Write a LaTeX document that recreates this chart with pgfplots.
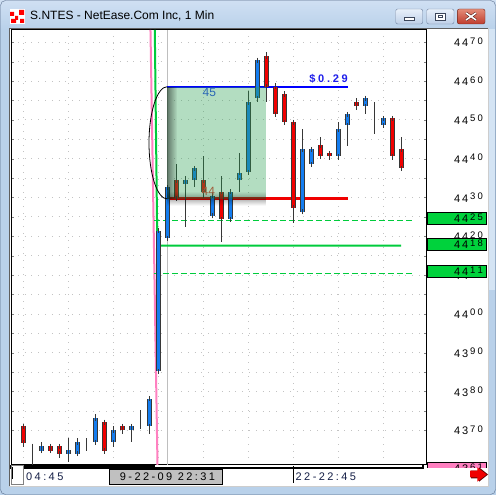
\documentclass[border=0pt]{standalone}
\usepackage{fontspec}
\setmainfont{Liberation Sans}
\newfontfamily\timefont[LetterSpace=22]{Liberation Sans}
\newfontfamily\tagfont[LetterSpace=25]{Liberation Sans}
\usepackage{pgfplots}
\pgfplotsset{compat=1.18}
\usepackage{pgfplotstable}
\usetikzlibrary{fadings}

\definecolor{frame}{RGB}{185,209,234}
\definecolor{titletop}{RGB}{208,224,243}
\definecolor{candleup}{RGB}{20,125,240}
\definecolor{candledn}{RGB}{240,0,0}
\definecolor{edge}{RGB}{55,55,55}
\definecolor{lvlgreen}{RGB}{0,204,60}
\definecolor{pinkline}{RGB}{255,128,192}
\definecolor{zonegreen}{RGB}{40,160,80}
\definecolor{gridc}{RGB}{195,195,195}
\definecolor{badgegreen}{RGB}{0,210,60}
\definecolor{timebox}{RGB}{192,192,192}
\definecolor{timetext}{RGB}{20,30,70}
\definecolor{cursorgray}{RGB}{190,190,190}

% price label: two leading digits, last two raised and smaller
\def\digs#1#2{#1\kern2bp#2}
\newcommand\pxl[2]{\hbox{{\fontsize{11bp}{11bp}\selectfont\digs#1}\kern2bp\raisebox{2.5bp}{\fontsize{9.5bp}{9.5bp}\selectfont\digs#2}}}

% one-minute bars: index, open, high, low, close
\pgfplotstableread{
i o h l c
2 4365.9 4365.9 4360.5 4365.9
3 4364.8 4367.0 4364.8 4365.9
6 4364.0 4368.0 4361.8 4364.8
7 4364.0 4368.0 4364.0 4366.9
8 4366.9 4368.0 4364.7 4366.9
9 4366.9 4374.2 4366.9 4373.1
11 4366.9 4371.0 4365.8 4370.0
13 4370.0 4371.0 4366.9 4371.0
14 4371.0 4375.2 4371.0 4371.0
15 4371.0 4378.2 4369.0 4378.2
16 4385.2 4421.5 4385.2 4421.5
17 4419.5 4432.6 4419.5 4432.6
19 4433.4 4435.5 4422.5 4434.4
20 4434.4 4437.5 4432.6 4437.5
22 4425.3 4431.5 4425.3 4430.5
24 4424.4 4431.5 4424.4 4431.5
25 4434.5 4441.4 4431.5 4436.4
26 4436.5 4457.4 4436.5 4454.5
27 4455.6 4465.4 4454.5 4465.4
32 4426.3 4447.7 4426.3 4442.4
33 4438.6 4442.4 4438.6 4442.4
36 4440.6 4449.4 4439.6 4447.6
37 4448.6 4451.4 4443.4 4451.4
39 4453.5 4455.6 4451.4 4455.6
40 4453.5 4454.7 4446.5 4453.5
41 4448.6 4450.4 4448.6 4450.4
}\upbars

\pgfplotstableread{
i o h l c
1 4371.0 4371.0 4365.8 4366.8
4 4365.9 4365.9 4364.8 4364.8
5 4365.9 4365.9 4362.9 4364.0
10 4372.1 4372.1 4364.0 4364.7
12 4371.0 4371.0 4369.0 4370.0
18 4434.4 4438.6 4429.8 4429.8
21 4434.4 4440.7 4429.8 4431.5
23 4431.5 4435.5 4418.5 4424.4
28 4466.4 4467.4 4454.5 4458.6
29 4458.6 4459.4 4451.4 4451.4
30 4456.6 4457.4 4448.6 4449.4
31 4449.4 4449.4 4423.5 4427.4
34 4443.5 4445.6 4440.6 4440.6
35 4441.4 4441.4 4439.6 4440.6
38 4454.5 4455.6 4452.5 4453.5
42 4450.4 4450.4 4439.6 4440.6
43 4442.4 4445.5 4437.5 4437.5
}\dnbars

\pgfplotsset{
  wicks/.style={draw=none, mark=none, forget plot,
    error bars/.cd, y dir=both, y explicit, error mark=none,
    error bar style={line width=1bp, draw=edge}},
  bodyedge/.style={draw=none, mark=none, forget plot,
    error bars/.cd, y dir=both, y explicit, error mark=none,
    error bar style={line width=5bp, draw=edge}},
  bodyfill/.style={draw=none, mark=none, forget plot,
    error bars/.cd, y dir=both, y explicit, error mark=-,
    error mark options={draw=edge, line width=1bp, mark size=2.5bp},
    error bar style={line width=3bp, draw=#1}},
}

\begin{document}
\begin{tikzpicture}[x=1bp,y=1bp]
\useasboundingbox (0,0) rectangle (496,495);

% window frame and title bar
\fill[frame] (0,0) rectangle (496,495);
\shade[top color=titletop, bottom color=frame] (0,466) rectangle (496,495);
\fill[color={rgb,255:red,212;green,228;blue,244}] (488.5,205) rectangle (495,466);
\draw[color={rgb,255:red,90;green,110;blue,140}, rounded corners=5bp] (0.5,0.5) rectangle (495.5,494.5);
% application icon
\fill[white] (10,471) rectangle (25,486);
\fill[red] (10,479) rectangle (14,483) (15,475) rectangle (18,479) (19,480) rectangle (24,485) (11,472) rectangle (16,476) (20,472) rectangle (24,476);
\node[anchor=base west, inner sep=0pt, font=\fontsize{12bp}{12bp}\selectfont] at (30,475) {S.NTES - NetEase.Com Inc, 1 Min};
% caption buttons
\shade[top color={rgb,255:red,232;green,240;blue,250}, bottom color={rgb,255:red,190;green,208;blue,232}, draw={rgb,255:red,110;green,130;blue,160}, rounded corners=2bp] (395.7,471) rectangle (422.7,486);
\shade[top color={rgb,255:red,232;green,240;blue,250}, bottom color={rgb,255:red,190;green,208;blue,232}, draw={rgb,255:red,110;green,130;blue,160}, rounded corners=2bp] (426.7,471) rectangle (454,486);
\shade[top color={rgb,255:red,228;green,140;blue,120}, bottom color={rgb,255:red,190;green,60;blue,45}, draw={rgb,255:red,110;green,40;blue,30}, rounded corners=2bp] (457.3,471) rectangle (485,486);
\draw[fill=white, draw={rgb,255:red,60;green,70;blue,90}] (404.5,474.5) rectangle (414.5,477.5);
\draw[fill=white, draw={rgb,255:red,60;green,70;blue,90}] (435.5,475) rectangle (445,482);
\draw[draw={rgb,255:red,60;green,70;blue,90}] (438,477.5) rectangle (442.5,479.5);
\draw[line width=2.6bp, color={rgb,255:red,70;green,25;blue,20}] (466,475) -- (476,482) (466,482) -- (476,475);
\draw[line width=1.6bp, white] (466,475) -- (476,482) (466,482) -- (476,475);

% client area
\fill[white] (9,8.5) rectangle (488,466.5);
\draw[color={rgb,255:red,205;green,205;blue,205}] (9,8.5) -- (488,8.5) -- (488,466.5);
\draw[color={rgb,255:red,95;green,95;blue,95}] (9,8.5) -- (9,466.5) -- (488,466.5);

\begin{axis}[
  at={(11bp,30bp)}, anchor=south west,
  width=415bp, height=435bp, scale only axis,
  xmin=-0.3667, xmax=45.744, ymin=4361.06, ymax=4473.17,
  axis line style={black, line width=1bp},
  xtick={1,6,...,41}, xticklabels={}, xtick style={draw=none},
  ytick={4370,4380,...,4470}, minor y tick num=1,
  yticklabel pos=right, ytick pos=both,
  yticklabels={\pxl{43}{70},\pxl{43}{80},\pxl{43}{90},\pxl{44}{00},\pxl{44}{10},\pxl{44}{20},\pxl{44}{30},\pxl{44}{40},\pxl{44}{50},\pxl{44}{60},\pxl{44}{70}},
  yticklabel style={anchor=east, xshift=57bp, inner sep=0pt, black},
  tick align=inside, major tick length=2.5bp, minor tick length=2.5bp,
  ytick style={gray}, minor tick style={gray},
  xmajorgrids, ymajorgrids, yminorgrids,
  major grid style={gridc, line width=0.8bp, dash pattern=on 0.8bp off 6bp},
  minor grid style={gridc, line width=0.8bp, dash pattern=on 0.8bp off 6bp},
]
% time cursor
\addplot[cursorgray, line width=1.5bp, forget plot] coordinates {(17,4361.06) (17,4473.17)};
% tick trace and stop level
\addplot[pinkline, line width=2bp, forget plot] coordinates {(15.91,4361.06) (15.13,4473.17)};
\addplot[lvlgreen, line width=2bp, forget plot] coordinates {(15.61,4473.17) (15.89,4417.58) (42.97,4417.58)};
\addplot[lvlgreen, line width=1bp, dash pattern=on 6bp off 3bp, forget plot] coordinates {(15.52,4424.12) (44.41,4424.12)};
\addplot[lvlgreen, line width=1bp, dash pattern=on 6bp off 3bp, forget plot] coordinates {(15.52,4410.46) (44.41,4410.46)};
% measured range
\addplot[blue, line width=2bp, forget plot] coordinates {(17,4458.56) (37.08,4458.56)};
\addplot[candledn, line width=2.5bp, forget plot] coordinates {(17,4429.69) (37.08,4429.69)};

% candles
\addplot[wicks] table[x=i, y expr={(\thisrow{h}+\thisrow{l})/2}, y error expr={(\thisrow{h}-\thisrow{l})/2}] {\upbars};
\addplot[wicks] table[x=i, y expr={(\thisrow{h}+\thisrow{l})/2}, y error expr={(\thisrow{h}-\thisrow{l})/2}] {\dnbars};
\addplot[bodyedge] table[x=i, y expr={(\thisrow{o}+\thisrow{c})/2}, y error expr={abs(\thisrow{c}-\thisrow{o})/2}] {\upbars};
\addplot[bodyedge] table[x=i, y expr={(\thisrow{o}+\thisrow{c})/2}, y error expr={abs(\thisrow{c}-\thisrow{o})/2}] {\dnbars};
\addplot[bodyfill=candleup] table[x=i, y expr={(\thisrow{o}+\thisrow{c})/2}, y error expr={abs(\thisrow{c}-\thisrow{o})/2}] {\upbars};
\addplot[bodyfill=candledn] table[x=i, y expr={(\thisrow{o}+\thisrow{c})/2}, y error expr={abs(\thisrow{c}-\thisrow{o})/2}] {\dnbars};

\node[font=\fontsize{12bp}{12bp}\selectfont, color={rgb,255:red,40;green,70;blue,235}] at (axis cs:21.67,4457.0) {45};
\node[font=\fontsize{12bp}{12bp}\selectfont, color={rgb,255:red,225;green,60;blue,50}] at (axis cs:21.56,4431.47) {44};

% highlighted zone with its shadow
\addplot[draw=none, fill=zonegreen, fill opacity=0.35, forget plot] coordinates {(17,4429.69) (27.97,4429.69) (27.97,4458.56) (17,4458.56)} --cycle;
\fill[black, fill opacity=0.45, path fading=east] (axis cs:17,4429.69) rectangle (axis cs:18.1,4458.56);
\fill[black, fill opacity=0.3, path fading=north] (axis cs:17,4429.69) rectangle (axis cs:27.97,4431.6);
\fill[black, fill opacity=0.3, path fading=south] (axis cs:17,4427.9) rectangle (axis cs:27.97,4429.69);
\draw[black, line width=0.8bp] (axis cs:17,4458.56) arc[start angle=90, end angle=270, x radius=18.3bp, y radius=56.15bp];

\node[anchor=south east, inner sep=0pt, font=\tagfont\bfseries\fontsize{11bp}{11bp}\selectfont, color={rgb,255:red,30;green,30;blue,235}] at (axis cs:37.08,4459.3) {\$0.29};

\coordinate (bA) at (axis cs:0,4424.64);
\coordinate (bB) at (axis cs:0,4417.94);
\coordinate (bC) at (axis cs:0,4410.98);
\coordinate (bD) at (axis cs:0,4360.2);
\end{axis}

% level badges on the price scale
\foreach \b/\t in {bA/{\pxl{44}{25}}, bB/{\pxl{44}{18}}, bC/{\pxl{44}{11}}} {
  \node[draw=black, line width=1bp, fill=badgegreen, minimum width=58.4bp, minimum height=12bp, inner sep=0pt, anchor=west] at (427.3,0 |- \b) {};
  \node[anchor=east, inner sep=0pt] at (483,0 |- \b) {\t};
}
\begin{scope}
\clip (426.5,27.7) rectangle (487,33);
\node[draw=black, line width=1bp, fill=pinkline, minimum width=58.4bp, minimum height=12bp, inner sep=0pt, anchor=west] at (427.3,0 |- bD) {};
\node[anchor=east, inner sep=0pt] at (483,0 |- bD) {\pxl{43}{61}};
\end{scope}

% bottom edge of the plot and time scale
\fill[black] (10,26.3) rectangle (155,29.5);
\draw[black, line width=1.5bp] (155,27.2) -- (423,27.2) -- (423,30);
\draw[color={rgb,255:red,128;green,128;blue,128}, fill=white] (11,10.7) rectangle (23.3,30.3);
\draw[black, line width=1bp] (12.7,16) -- (12.7,28);
\node[anchor=west, inner sep=0pt, font=\timefont\fontsize{11bp}{11bp}\selectfont, timetext] at (26,18.3) {04:45};
\draw[black, fill=timebox] (109.3,10.7) rectangle (222.3,25.7);
\node[inner sep=0pt, font=\timefont\fontsize{11bp}{11bp}\selectfont, black] at (167.5,18.3) {9-22-09 22:31};
\draw[black, line width=1bp] (293.3,12) -- (293.3,29);
\node[anchor=west, inner sep=0pt, font=\timefont\fontsize{11bp}{11bp}\selectfont, timetext] at (295.5,18.3) {22-22:45};
% scroll arrow
\fill[color={rgb,255:red,90;green,0;blue,0}] (471,16.7) -- (479,16.7) -- (479,13.3) -- (488,20.5) -- (479,27.7) -- (479,24.3) -- (471,24.3) -- cycle;
\fill[candledn] (470,17.7) -- (477.3,17.7) -- (477.3,13.3) -- (486.7,20.5) -- (477.3,27.7) -- (477.3,24.3) -- (470,24.3) -- cycle;
\end{tikzpicture}
\end{document}
